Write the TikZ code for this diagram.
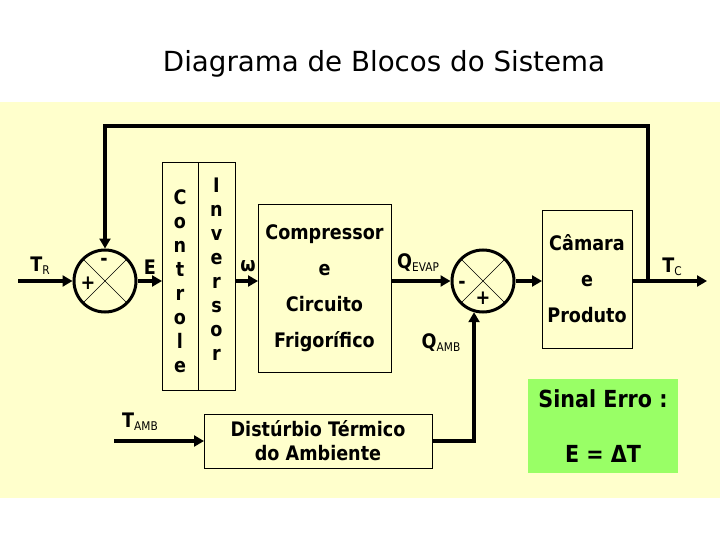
\documentclass[tikz,border=0pt]{standalone}
\usepackage{fontspec}
\setmainfont{DejaVu Sans}
\newfontfamily\estreita{DejaVu Sans}[FakeStretch=0.88]
\usetikzlibrary{arrows.meta,positioning}

\definecolor{fundo}{HTML}{FFFFCC}
\definecolor{verde}{HTML}{99FF66}

% letra em negrito com indice em fonte normal
\newcommand{\sigsub}[2]{\textbf{#1}\raisebox{-3pt}{\mdseries\fontsize{12}{12}\selectfont #2}}

\tikzset{
  bloco/.style={draw, line width=0.8pt, fill=fundo, inner sep=0pt, outer sep=0pt},
  soma/.style={circle, draw, line width=3pt, minimum size=62pt, inner sep=0pt},
  sinal/.style={line width=4pt, -{Triangle[length=10pt,width=11pt]}},
  rotulo/.style={font=\estreita\fontsize{20}{20}\selectfont\bfseries},
}

\begin{document}
\begin{tikzpicture}[x=1pt,y=-1pt]
\useasboundingbox (0,0) rectangle (720,540);
\fill[fundo] (0,102) rectangle (720,498);

% title
\node (titulo) at (384,64) {\fontsize{27.7}{27.7}\selectfont Diagrama de Blocos do Sistema};

% summing junctions
\node[soma] (s1) at (105,281) {};
\node[soma] (s2) at (483,281) {};
\foreach \s in {s1,s2} {
  \draw[line width=0.6pt] (\s.45) -- (\s.225);
  \draw[line width=0.6pt] (\s.135) -- (\s.315);
}
\node[rotulo] (s1mais) at (88,283) {+};
\node[rotulo] (s1menos) at (104,262) {-};
\node[rotulo] (s2menos) at (462,285) {-};
\node[rotulo] (s2mais) at (483,298) {+};

% blocks
\node[bloco, minimum width=36pt, minimum height=228pt] (ctrl) at (180,276) {};
\node[bloco, minimum width=37pt, minimum height=228pt, right=0pt of ctrl] (inv) {};
\node[align=center, font=\estreita\fontsize{20}{24}\selectfont\bfseries] (ctrltxt) at (ctrl.center |- 0,281) {C\\o\\n\\t\\r\\o\\l\\e};
\node[align=center, font=\estreita\fontsize{20}{24}\selectfont\bfseries] (invtxt) at (inv.center |- 0,269) {I\\n\\v\\e\\r\\s\\o\\r};

\node[bloco, minimum width=133pt, minimum height=168pt, align=center,
      font=\estreita\fontsize{20}{36}\selectfont\bfseries] (comp) at (324.5,288) {Compressor\\e\\Circuito\\Frigorífico};
\node[bloco, minimum width=90pt, minimum height=138pt, align=center,
      font=\estreita\fontsize{20}{36}\selectfont\bfseries] (cam) at (587,279) {Câmara\\e\\Produto};
\node[bloco, minimum width=228pt, minimum height=54pt, align=center,
      font=\estreita\fontsize{20}{24}\selectfont\bfseries] (dist) at (318,441) {Distúrbio Térmico\\do Ambiente};

% error box
\node[fill=verde, minimum width=150pt, minimum height=94pt, align=center,
      font=\estreita\fontsize{23.5}{55}\selectfont\bfseries] (erro) at (603,426) {Sinal Erro :\\E = ΔT};

% free ends
\coordinate (tr) at (18,281);
\coordinate (tap) at (648,281);
\coordinate (topo) at (648,126);
\coordinate (tc) at (707,281);
\coordinate (tamb) at (114,441);

% signals
\draw[sinal] (tr) -- (s1);
\draw[sinal] (s1) -- (s1 -| ctrl.west);
\draw[sinal] (s1 -| inv.east) -- (s1 -| comp.west);
\draw[sinal] (s2 -| comp.east) -- (s2);
\draw[sinal] (s2) -- (s2 -| cam.west);
\draw[sinal] (s2 -| cam.east) -- (tc);
\draw[sinal] (tap) -- (topo) -| (s1);
\draw[sinal] (tamb) -- (dist);
\draw[sinal] (dist) -| (s2.254);

% labels
\node[rotulo] (trlbl) at (40,266) {\sigsub{T}{R}};
\node[rotulo] (elbl) at (150,267) {E};
\node[rotulo] (wlbl) at (248,266) {ω};
\node[rotulo] (qevaplbl) at (418,263) {\sigsub{Q}{EVAP}};
\node[rotulo] (qamblbl) at (441,343) {\sigsub{Q}{AMB}};
\node[rotulo] (tclbl) at (672,267) {\sigsub{T}{C}};
\node[rotulo] (tamblbl) at (140,422) {\sigsub{T}{AMB}};

\end{tikzpicture}
\end{document}
